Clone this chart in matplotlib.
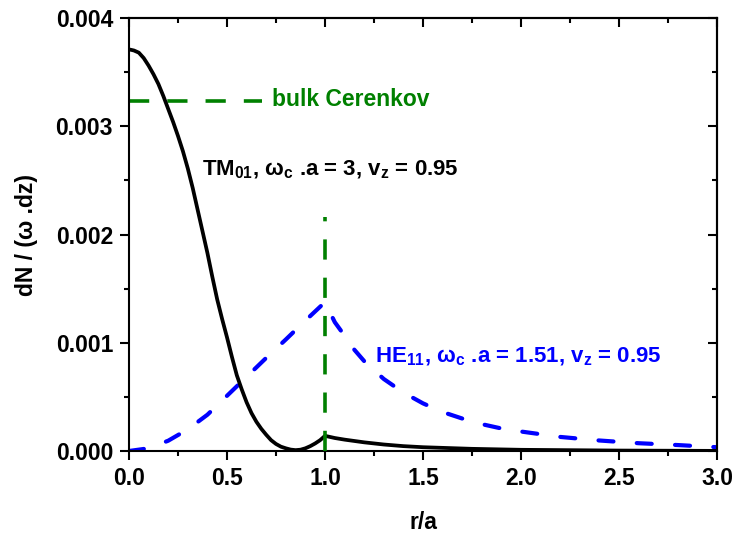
import matplotlib
matplotlib.use("Agg")
import matplotlib.pyplot as plt
from matplotlib.ticker import MultipleLocator, FormatStrFormatter
import numpy as np

plt.rcParams['font.family'] = ['Liberation Sans', 'DejaVu Sans']
plt.rcParams['font.weight'] = 'bold'
plt.rcParams['mathtext.fontset'] = 'custom'
plt.rcParams['mathtext.rm'] = 'Liberation Sans:bold'
plt.rcParams['mathtext.it'] = 'Liberation Sans:bold'
plt.rcParams['mathtext.bf'] = 'Liberation Sans:bold'
plt.rcParams['mathtext.sf'] = 'Liberation Sans:bold'

# TM01 mode (black solid), values in units of 1e-3
r_tm = [0.000, 0.025, 0.050, 0.075, 0.100, 0.125, 0.150, 0.175, 0.200, 0.225,
        0.250, 0.275, 0.300, 0.325, 0.350, 0.375, 0.400, 0.425, 0.450, 0.475,
        0.500, 0.525, 0.550, 0.575, 0.600, 0.625, 0.650, 0.675, 0.700, 0.725,
        0.750, 0.775, 0.800, 0.825, 0.850, 0.875, 0.900, 0.925, 0.950, 0.975,
        1.000, 1.05, 1.10, 1.20, 1.30, 1.40, 1.50, 1.75, 2.00, 2.50, 3.00]
tm_vals = [3.71, 3.70, 3.68, 3.63, 3.56, 3.48, 3.39, 3.28, 3.16, 3.04,
           2.91, 2.77, 2.61, 2.43, 2.23, 2.03, 1.83, 1.61, 1.40, 1.22,
           1.05, 0.87, 0.70, 0.57, 0.45, 0.35, 0.27, 0.205, 0.15, 0.10,
           0.065, 0.04, 0.025, 0.013, 0.008, 0.012, 0.025, 0.045, 0.07, 0.10,
           0.14, 0.12, 0.105, 0.08, 0.06, 0.045, 0.035, 0.02, 0.011, 0.004, 0.001]

# HE11 mode (blue dashed), values in units of 1e-3
r_he = [0.0, 0.1, 0.2, 0.3, 0.4, 0.5, 0.6, 0.7, 0.8, 0.9, 1.0,
        1.05, 1.1, 1.15, 1.2, 1.3, 1.4, 1.5, 1.6, 1.7, 1.8, 1.9, 2.0,
        2.2, 2.4, 2.6, 2.8, 3.0]
he_vals = [0.0, 0.025, 0.095, 0.20, 0.335, 0.51, 0.685, 0.86, 1.03, 1.205, 1.375,
           1.19, 1.065, 0.935, 0.83, 0.665, 0.54, 0.44, 0.36, 0.30, 0.248, 0.208, 0.18,
           0.13, 0.097, 0.072, 0.055, 0.035]

# bulk Cerenkov level and vertical marker at r/a = 1
bulk_r = [0.0, 0.68]
bulk_val = [3.236, 3.236]
vline_r = [1.0, 1.0]
vline_val = [0.0, 2.16]

xticks = [0.0, 0.5, 1.0, 1.5, 2.0, 2.5, 3.0]
yticks = [0.000, 0.001, 0.002, 0.003, 0.004]

scale = 1e-3
fig = plt.figure(figsize=(7.35, 5.39), dpi=100)
ax = fig.add_axes([129/735, 88/539, 588/735, 433/539])

green = '#008000'
ax.plot(r_tm, np.array(tm_vals) * scale, color='black', lw=2.7,
        solid_joinstyle='round', solid_capstyle='round', zorder=3)
lb, = ax.plot(r_he, np.array(he_vals) * scale, color='#0000ff', lw=3.0,
              dash_capstyle='round', zorder=2)
lb.set_dashes((3.6, 5.6))
lg1, = ax.plot(bulk_r, np.array(bulk_val) * scale, color=green, lw=2.6, zorder=2)
lg1.set_dashes((5.6, 5.0))
lg2, = ax.plot(vline_r, np.array(vline_val) * scale, color=green, lw=2.6, zorder=4)
lg2.set_dashes((5.6, 5.0))

ax.set_xlim(0, 3)
ax.set_ylim(0, 0.004)
ax.set_xticks(xticks)
ax.set_yticks(yticks)
ax.xaxis.set_minor_locator(MultipleLocator(0.25))
ax.yaxis.set_minor_locator(MultipleLocator(0.0005))
ax.xaxis.set_major_formatter(FormatStrFormatter('%.1f'))
ax.yaxis.set_major_formatter(FormatStrFormatter('%.3f'))
ax.tick_params(which='major', direction='out', length=6.5, width=1.5,
               labelsize=16.5, pad=5, top=False, right=False)
ax.tick_params(which='minor', direction='out', length=3.6, width=1.5,
               top=False, right=False)
for sp in ax.spines.values():
    sp.set_linewidth(1.5)

# mirrored inward ticks on top and right
secx = ax.secondary_xaxis('top')
secx.set_xticks(xticks)
secx.xaxis.set_minor_locator(MultipleLocator(0.25))
secx.tick_params(which='major', direction='in', length=6.5, width=1.5, labeltop=False)
secx.tick_params(which='minor', direction='in', length=3.6, width=1.5, labeltop=False)
secx.spines['top'].set_linewidth(1.5)
secy = ax.secondary_yaxis('right')
secy.set_yticks(yticks)
secy.yaxis.set_minor_locator(MultipleLocator(0.0005))
secy.tick_params(which='major', direction='in', length=6.5, width=1.5, labelright=False)
secy.tick_params(which='minor', direction='in', length=3.6, width=1.5, labelright=False)
secy.spines['right'].set_linewidth(1.5)

ax.set_xlabel('r/a', fontsize=16.5, fontweight='bold')
ax.set_ylabel('dN / (ω .dz)', fontsize=16.5, fontweight='bold')
ax.xaxis.set_label_coords(0.5, (451 - 511) / 433)
ax.yaxis.set_label_coords((38 - 129) / 588, 0.5)

ax.text(0.73, 3.187 * scale, 'bulk Cerenkov', color=green, fontsize=16.5,
        fontweight='bold', ha='left', va='baseline')
ax.text(0.371, 2.55 * scale, r'TM$_{01}$, ω$_c$ .a = 3, v$_z$ = 0.95', color='black',
        fontsize=16, fontweight='bold', ha='left', va='baseline')
ax.text(1.255, 0.822 * scale, r'HE$_{11}$, ω$_c$ .a = 1.51, v$_z$ = 0.95', color='#0000ff',
        fontsize=16, fontweight='bold', ha='left', va='baseline')

fig.savefig('out.png', dpi=100)
